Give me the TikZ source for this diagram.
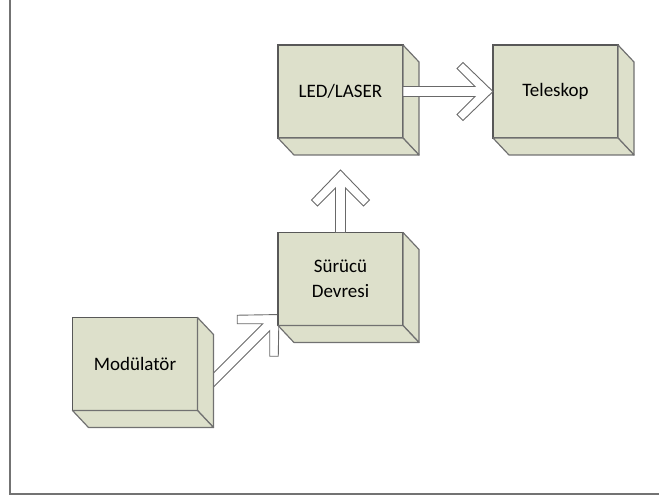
\documentclass[tikz,border=0pt]{standalone}
\usepackage{fontspec}
\setmainfont{Carlito}
\usepackage{tikz}
\usetikzlibrary{calc,backgrounds}
\definecolor{boxface}{RGB}{221,224,203}
\definecolor{boxedge}{RGB}{88,88,88}
\definecolor{arrowedge}{RGB}{105,105,105}
\definecolor{framegray}{RGB}{115,115,115}
\tikzstyle{block} = [rectangle, draw=boxedge, fill=boxface, line width=1.6pt, outer sep=0pt, inner sep=0pt, minimum width=125pt, minimum height=93pt, align=center, font=\fontsize{19}{25}\selectfont]
\tikzstyle{face} = [draw=boxedge!85, fill=boxface, line width=1.2pt, line join=round]
\tikzstyle{hollow} = [draw=arrowedge, fill=white, line width=0.9pt, line join=miter]

% side and bottom face of a block
\newcommand{\blockdepth}[1]{
	\draw[face] (#1.north east) -- ++(16,17) -- ($(#1.south east)+(16,17)$) -- (#1.south east) -- cycle;
	\draw[face] (#1.south west) -- ++(16,17) -- ($(#1.south east)+(16,17)$) -- (#1.south east) -- cycle;
}

% wide hollow arrow from #1 to #2
\newcommand{\hollowarrow}[2]{
	\draw[hollow] let \p1=(#1), \p2=(#2), \n1={atan2(\y2-\y1,\x2-\x1)}, \n2={veclen(\x2-\x1,\y2-\y1)} in
		[shift={(\p1)}, rotate=\n1] (0,5) -- (\n2-18,5) -- (\n2-36,23) -- (\n2-30,29) -- (\n2,0)
		-- (\n2-30,-29) -- (\n2-36,-23) -- (\n2-18,-5) -- (0,-5) -- cycle;
}

\begin{document}
\begin{tikzpicture}[x=1pt,y=-1pt]
	\useasboundingbox (0,0) rectangle (659,500);
	\draw[framegray, line width=1.5pt] (10,0) -- (10,494) -- (659,494);
	
	% ------------------- Blocks ------------------- %
	\node[block] (mod) at (135,364) {Modülatör};
	\blockdepth{mod}
	\node[block] (drv) at (340.5,279) {Sürücü\\Devresi};
	\blockdepth{drv}
	\node[block] (led) at (340.5,91.5) {LED/LASER};
	\blockdepth{led}
	\node[block] (tel) at (555.5,91.5) {Teleskop};
	\blockdepth{tel}
	
	\coordinate (drvin) at ($(drv.south west)+(1,-11)$);
	\coordinate (modout) at ($(drvin)+(-74,74)$);
	\coordinate (ledin) at ($(led.south)+(0,32)$);
	
	% ------------------- Arrows ------------------- %
	% this one runs in behind both blocks
	\begin{pgfonlayer}{background}
		\hollowarrow{modout}{drvin}
	\end{pgfonlayer}
	\hollowarrow{drv.north}{ledin}
	\hollowarrow{led.east}{tel.west}
\end{tikzpicture}
\end{document}
